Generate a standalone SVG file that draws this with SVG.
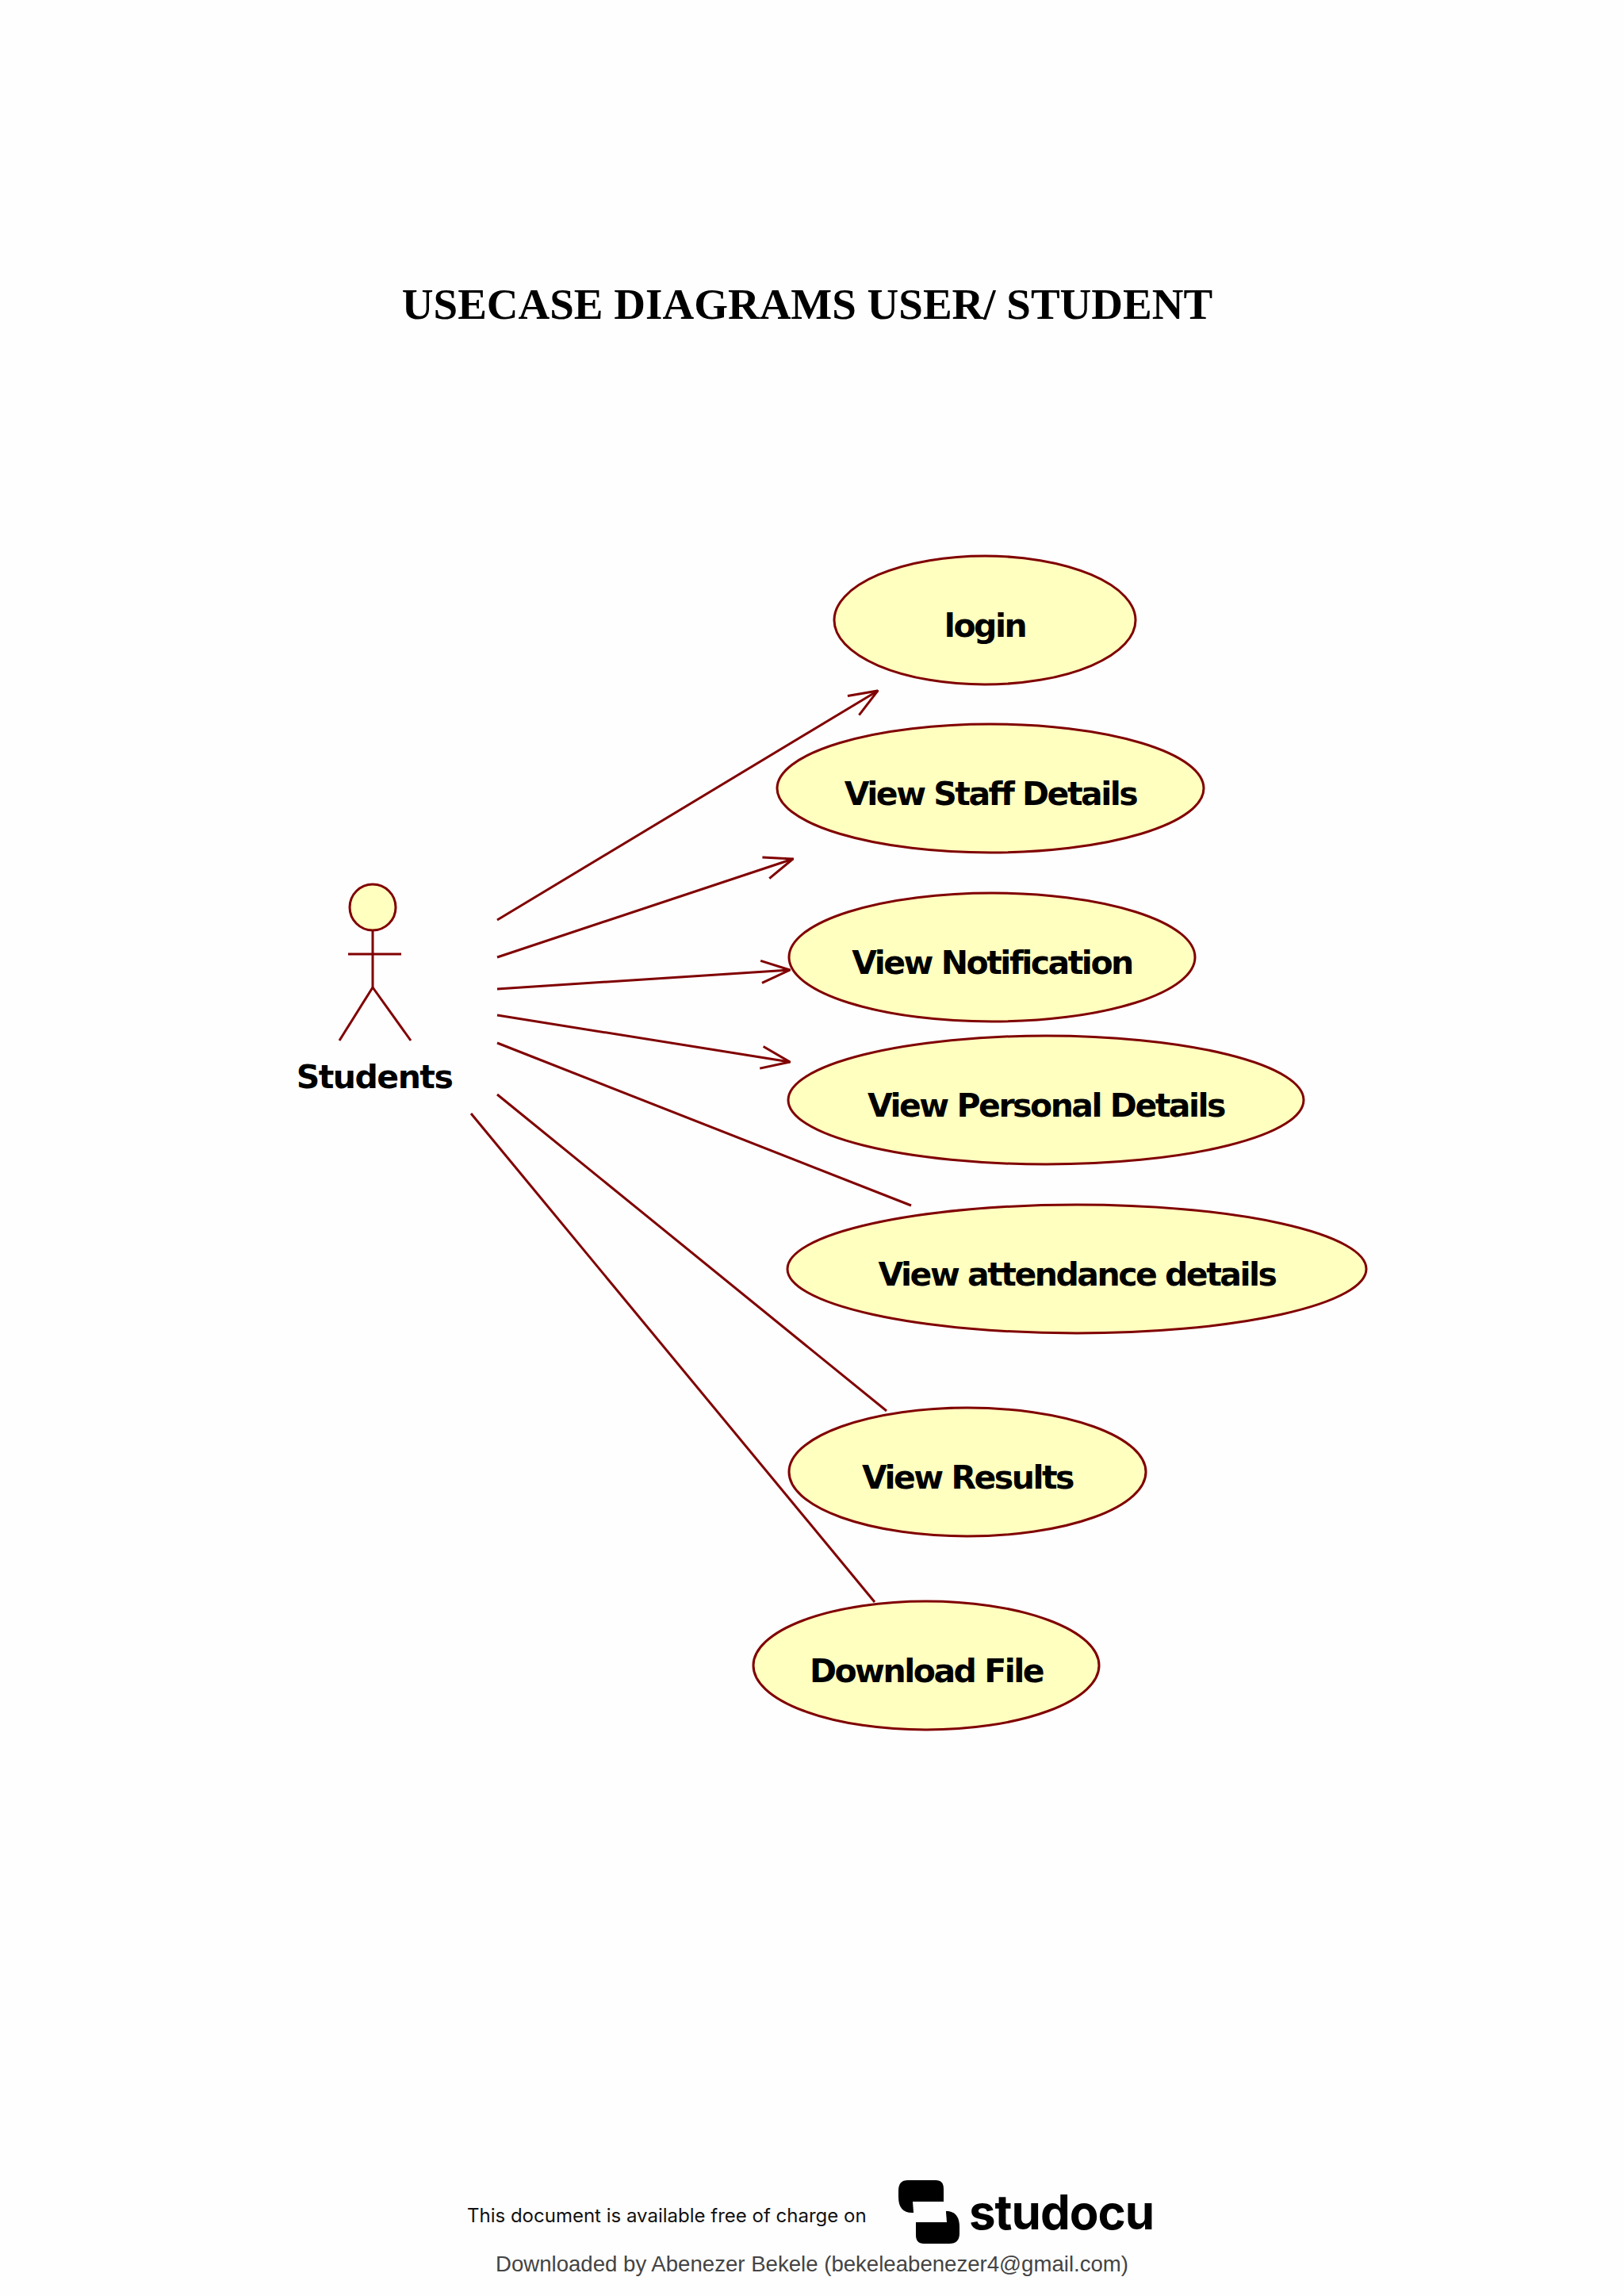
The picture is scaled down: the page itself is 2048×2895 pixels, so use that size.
<svg xmlns="http://www.w3.org/2000/svg" width="2048" height="2895" viewBox="0 0 2048 2895">
<defs>
<style>
.uc{fill:#ffffc0;stroke:#800000;stroke-width:3}
.lbl{font-family:"DejaVu Sans",Verdana,sans-serif;font-weight:bold;font-size:41px;letter-spacing:-2.5px;fill:#000;text-anchor:middle}
.ln{stroke:#800000;stroke-width:3;fill:none}
.act{stroke:#800000;stroke-width:3;fill:none}
</style>
<marker id="openA" viewBox="0 0 40 40" refX="39" refY="20" markerWidth="40" markerHeight="40" markerUnits="userSpaceOnUse" orient="auto">
<path d="M3,6 L39,20 L3,34" fill="none" stroke="#800000" stroke-width="3"/>
</marker>
</defs>
<rect width="2048" height="2895" fill="#fefefe"/>
<text x="1018" y="402" font-family="Liberation Serif,serif" font-weight="bold" font-size="55" text-anchor="middle">USECASE DIAGRAMS USER/ STUDENT</text>

<g id="connectors">
<line class="ln" x1="627" y1="1160" x2="1107" y2="871" marker-end="url(#openA)"/>
<line class="ln" x1="627" y1="1207" x2="1000" y2="1083" marker-end="url(#openA)"/>
<line class="ln" x1="627" y1="1247" x2="996" y2="1223" marker-end="url(#openA)"/>
<line class="ln" x1="627" y1="1280" x2="996" y2="1339" marker-end="url(#openA)"/>
<line class="ln" x1="627" y1="1315" x2="1149" y2="1520"/>
<line class="ln" x1="627" y1="1380" x2="1118" y2="1779"/>
<line class="ln" x1="594" y1="1404" x2="1103" y2="2020"/>
</g>

<g id="actor-students">
<circle cx="470" cy="1144" r="29" fill="#ffffc0" stroke="#800000" stroke-width="3"/>
<line class="act" x1="470" y1="1173" x2="470" y2="1245"/>
<line class="act" x1="439" y1="1203" x2="506" y2="1203"/>
<line class="act" x1="470" y1="1245" x2="428" y2="1312"/>
<line class="act" x1="470" y1="1245" x2="518" y2="1312"/>
<text class="lbl" x="472" y="1372" style="letter-spacing:-1.5px">Students</text>
</g>

<g id="uc-login"><ellipse class="uc" cx="1242" cy="782" rx="190" ry="81"/><text class="lbl" x="1242" y="803">login</text></g>
<g id="uc-staff"><ellipse class="uc" cx="1249" cy="994" rx="269" ry="81"/><text class="lbl" x="1249" y="1015">View Staff Details</text></g>
<g id="uc-notification"><ellipse class="uc" cx="1251" cy="1207" rx="256" ry="81"/><text class="lbl" x="1251" y="1228">View Notification</text></g>
<g id="uc-personal"><ellipse class="uc" cx="1319" cy="1387" rx="325" ry="81"/><text class="lbl" x="1319" y="1408">View Personal Details</text></g>
<g id="uc-attendance"><ellipse class="uc" cx="1358" cy="1600" rx="365" ry="81"/><text class="lbl" x="1358" y="1621">View attendance details</text></g>
<g id="uc-results"><ellipse class="uc" cx="1220" cy="1856" rx="225" ry="81"/><text class="lbl" x="1220" y="1877">View Results</text></g>
<g id="uc-download"><ellipse class="uc" cx="1168" cy="2100" rx="218" ry="81"/><text class="lbl" x="1168" y="2121">Download File</text></g>

<g id="footer">
<text x="589" y="2802" font-family="Inter,Liberation Sans,sans-serif" font-size="24" fill="#111">This document is available free of charge on</text>
<g id="logo" fill="#000">
<path d="M1145,2749 L1180,2749 Q1190,2749 1190,2760 L1190,2790 L1150,2790 Q1133,2790 1133,2770 L1133,2762 Q1133,2749 1145,2749 Z"/>
<path d="M1155,2788 L1196,2788 Q1210,2790 1210,2808 L1210,2816 Q1210,2829 1197,2829 L1165,2829 Q1155,2829 1155,2818 Z"/>
<path d="M1151,2776 L1192,2776 L1194,2802 L1153,2802 Z" fill="#fefefe"/>
</g>
<text x="1222" y="2811" font-family="Inter,Liberation Sans,sans-serif" font-weight="bold" font-size="60" letter-spacing="-1" fill="#000">studocu</text>
<text x="625" y="2864" font-family="Liberation Sans,sans-serif" font-size="27.6" fill="#444">Downloaded by Abenezer Bekele (bekeleabenezer4@gmail.com)</text>
</g>
</svg>
